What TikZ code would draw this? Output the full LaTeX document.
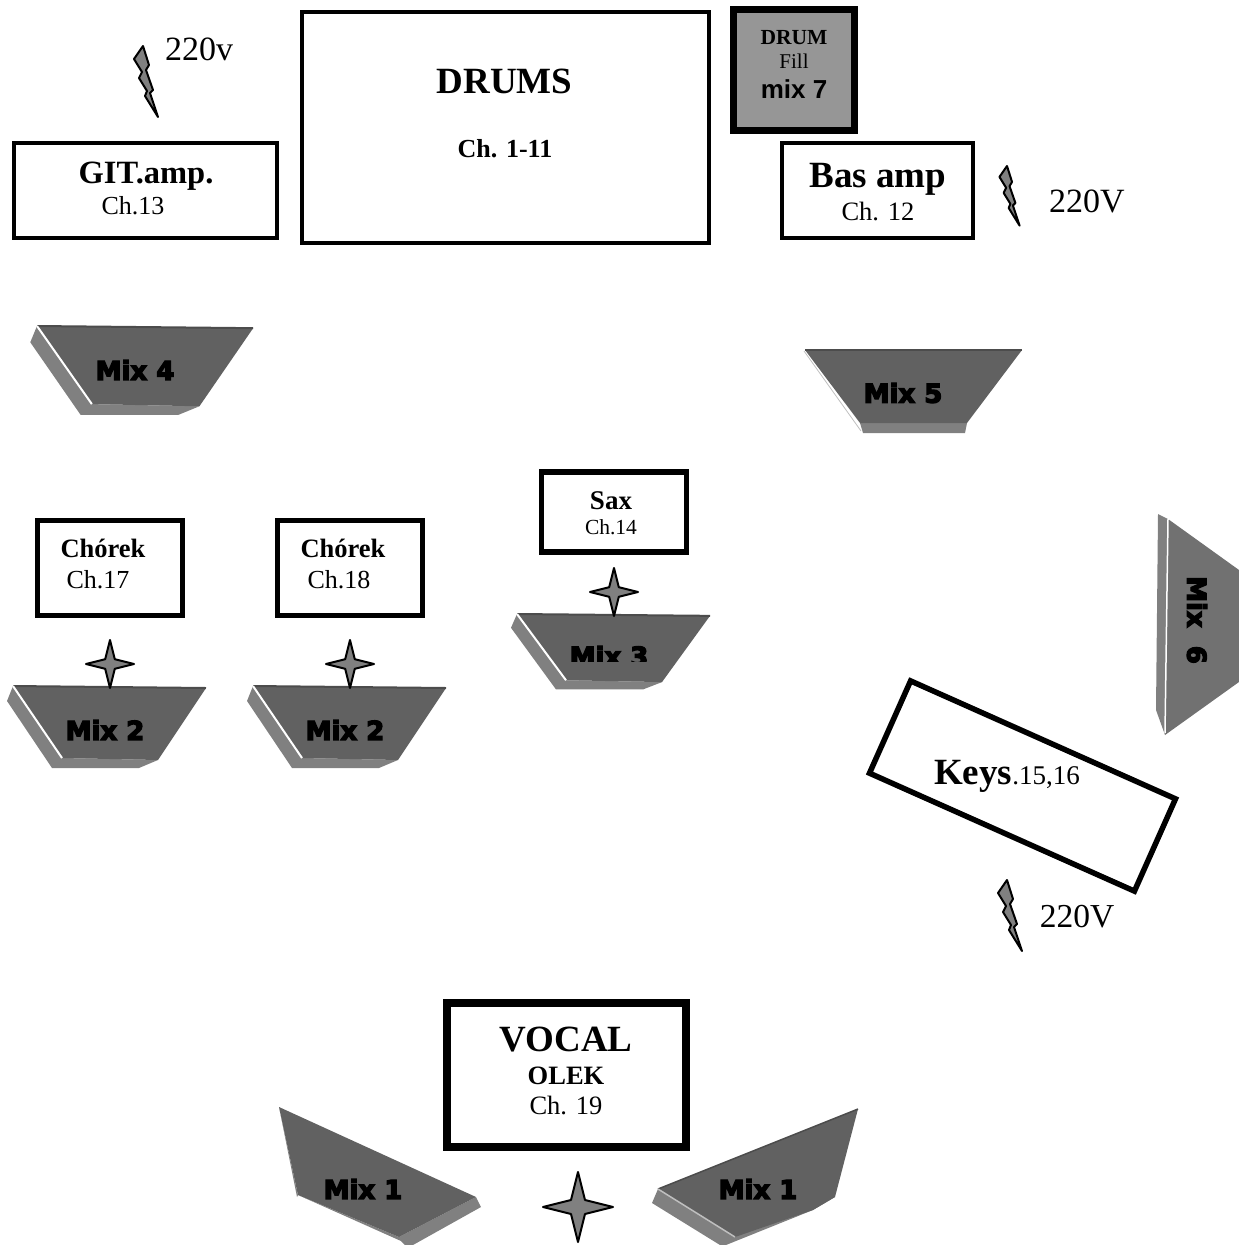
\documentclass[tikz,border=0pt]{standalone}
\usepackage{fontspec}
\setmainfont{Liberation Serif}
\newfontfamily\mixfont{DejaVu Sans}[BoldFeatures={FakeBold=5}]
\newfontfamily\arialfont{Liberation Sans}
\usepackage{tikz}
\definecolor{mixface}{gray}{0.38}
\definecolor{mixside}{gray}{0.5}
\definecolor{mixedge}{gray}{0.3}
\definecolor{partgray}{gray}{0.5}
\tikzset{
	thinbox/.style={draw,line width=4pt,inner sep=0pt},
	widebox/.style={draw,line width=5.5pt,inner sep=0pt},
	lab/.style={anchor=base,inner sep=0pt,font=\fontsize{#1}{#1}\selectfont},
	blab/.style={anchor=base,inner sep=0pt,font=\fontsize{#1}{#1}\selectfont\bfseries},
	mixlab/.style={inner sep=0pt,font=\fontsize{26}{26}\selectfont\mixfont\bfseries},
}
\begin{document}
\begin{tikzpicture}[x=1pt,y=-1pt]
	\clip (0,0) rectangle (1239,1245);
	\node [thinbox,minimum width=263pt,minimum height=95pt] (gitbox) at (145.5,190) {};
	\node [thinbox,minimum width=407pt,minimum height=231pt] (drumbox) at (505.5,127) {};
	\node [thinbox,minimum width=191pt,minimum height=95pt] (basbox) at (877.5,190) {};
	\node [draw,fill=black!41,line width=7pt,inner sep=0pt,minimum width=121pt,minimum height=121pt] (fillbox) at (794,70) {};
	\node [widebox,minimum width=145pt,minimum height=95pt] (chorekA) at (110,568) {};
	\node [widebox,minimum width=145pt,minimum height=95pt] (chorekB) at (350,568) {};
	\node [widebox,minimum width=145pt,minimum height=80pt] (saxbox) at (614,512) {};
	\node [draw,line width=8pt,inner sep=0pt,minimum width=239pt,minimum height=144pt] (vocalbox) at (566.5,1075) {};
	\node [widebox,rotate=-24,minimum width=290pt,minimum height=101pt] (keysbox) at (1022.5,786) {};
	\node [blab=37] (drumsname) at (504.5,93) {DRUMS};
	\node [blab=26] (drumsch) at (505,157) {Ch. 1-11};
	\node [blab=32.5] (gitname) at (146,183) {GIT.amp.};
	\node [lab=26] (gitch) at (133,214) {Ch.13};
	\node [blab=37] (basname) at (878,187) {Bas amp};
	\node [lab=26.5] (basch) at (878,220) {Ch. 12};
	\node [blab=21.5] (fillA) at (794,44) {DRUM};
	\node [lab=21] (fillB) at (794,68) {Fill};
	\node [inner sep=0pt,anchor=base,font=\fontsize{26}{26}\selectfont\arialfont\bfseries] (fillC) at (794,98) {mix 7};
	\node [blab=26.5] (chorekAname) at (103,557) {Chórek};
	\node [lab=26] (chorekAch) at (98,588) {Ch.17};
	\node [blab=26.5] (chorekBname) at (343,557) {Chórek};
	\node [lab=26] (chorekBch) at (339,588) {Ch.18};
	\node [blab=27] (saxname) at (611,509) {Sax};
	\node [lab=21.5] (saxch) at (611,534) {Ch.14};
	\node [lab=27] (keysname) at (1007,784) {\fontsize{37}{37}\selectfont\bfseries Keys\fontsize{27}{27}\selectfont\mdseries.15,16};
	\node [blab=37] (vocalname) at (566,1051) {VOCAL};
	\node [blab=26.5] (vocalA) at (566,1084) {OLEK};
	\node [lab=26.5] (vocalB) at (566,1114) {Ch. 19};
	\node [lab=34] (voltA) at (199,60) {220v};
	\node [lab=34] (voltB) at (1087,212) {220V};
	\node [lab=33.5] (voltC) at (1077,927) {220V};
	\foreach \mixx/\mixy/\mixs/\mixv in {37/326/1.12/1.085,13/686/1/1,253/686/1/1,517/614/1/0.92} {
	\begin{scope}[shift={(\mixx,\mixy)},xscale=\mixs,yscale=\mixv]
		\fill [mixside] (0,0) -- (-6,15) -- (39,82) -- (126,82) -- (145,74) -- (49,72) -- cycle;
		\fill [mixface] (0,0) -- (193,2) -- (145,74) -- (49,72) -- cycle;
		\draw [mixedge,line width=2pt] (0,0) -- (193,2);
		\draw [white,line width=2pt] (0,0) -- (49,72);
	\end{scope}
	}
	\node [mixlab] (mixD) at (135,370) {Mix 4};
	\node [mixlab] (mixBa) at (105,730) {Mix 2};
	\node [mixlab] (mixBb) at (345,730) {Mix 2};
	\begin{scope}
		\clip (500,630) rectangle (720,661);
		\node [mixlab] (mixC) at (609,656) {Mix 3};
	\end{scope}
	\draw [black!25,line width=0.8pt] (804,351) -- (861,431);
	\fill [mixside] (860,423) -- (863,433) -- (965,433) -- (967,423) -- cycle;
	\fill [mixface] (805,350) -- (1022,350) -- (967,423) -- (860,423) -- cycle;
	\draw [mixedge,line width=2pt] (805,350) -- (1022,350);
	\node [mixlab] (mixE) at (903,393) {Mix 5};
	\fill [mixside] (1158,514) -- (1168,519) -- (1165,735) -- (1156,710) -- cycle;
	\fill [mixface!90!white] (1168,519) -- (1239,570) -- (1239,682) -- (1165,735) -- cycle;
	\draw [white,line width=1.5pt] (1168,519) -- (1165,733);
	\node [mixlab,rotate=-90] (mixF) at (1197,620) {Mix\ \ 6};
	\fill [mixside] (298,1195) -- (399,1237) -- (476,1197) -- (481,1207) -- (413,1245) -- (405,1245) -- (401,1241) -- cycle;
	\fill [mixside] (279,1107) -- (298,1195) -- (297,1197) -- cycle;
	\fill [mixface] (279,1107) -- (476,1197) -- (399,1237) -- (298,1195) -- cycle;
	\node [mixlab] (mixAa) at (363,1189) {Mix 1};
	\fill [mixside] (658,1189) -- (652,1203) -- (720,1245) -- (726,1245) -- (813,1210) -- (835,1197) -- cycle;
	\fill [mixface] (858,1109) -- (658,1189) -- (735,1237) -- (813,1210) -- (835,1197) -- cycle;
	\draw [mixedge,line width=1.5pt] (858,1109) -- (658,1189);
	\draw [black!25,line width=1.5pt] (658,1189) -- (735,1237);
	\node [mixlab] (mixAb) at (758,1189) {Mix 1};
	\foreach \starx/\stary/\starr in {110/664/24,350/664/24,614/592/24,578/1207/35}
	\draw [fill=partgray,line width=2pt,line join=round] (\starx,\stary-\starr) -- (\starx+0.2*\starr,\stary-0.2*\starr) -- (\starx+\starr,\stary) -- (\starx+0.2*\starr,\stary+0.2*\starr) -- (\starx,\stary+\starr) -- (\starx-0.2*\starr,\stary+0.2*\starr) -- (\starx-\starr,\stary) -- (\starx-0.2*\starr,\stary-0.2*\starr) -- cycle;
	\foreach \boltx/\bolty/\bolts in {143/46/1,1007/166/0.84,1007/880/1}
	\draw [shift={(\boltx,\bolty)},scale=\bolts,fill=partgray,line width=2pt,line join=round] (0,0) -- (-9,13) -- (-1,26) -- (-4,32) -- (4,45) -- (2,50) -- (15,71) -- (7,47) -- (10,44) -- (3,24) -- (6,19) -- cycle;
\end{tikzpicture}
\end{document}
